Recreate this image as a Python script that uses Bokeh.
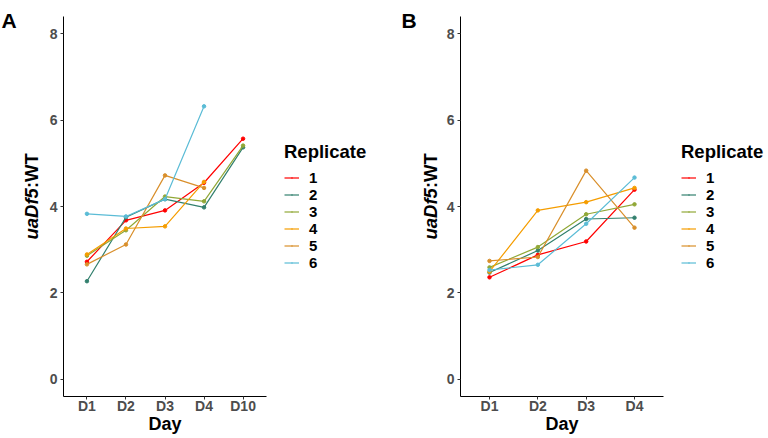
import math
from bokeh.plotting import figure
from bokeh.models import (ColumnDataSource, Legend, LegendItem, Label,
                          FactorRange, Range1d, FixedTicker)
from bokeh.layouts import row
from bokeh.embed import file_html
from bokeh.resources import INLINE

# ---------------- data ----------------
replicates = ["1", "2", "3", "4", "5", "6"]
colors = ["#FF0000", "#33806E", "#91A837", "#F59D00", "#D98F2B", "#5BBCD6"]

days_a = ["D1", "D2", "D3", "D4", "D10"]
rep1_a = [2.72, 3.68, 3.91, 4.55, 5.57]
rep2_a = [2.27, 3.75, 4.17, 3.98, 5.37]
rep3_a = [2.86, 3.45, 4.23, 4.12, 5.41]
rep4_a = [2.89, 3.49, 3.54, 4.57, None]
rep5_a = [2.66, 3.12, 4.72, 4.43, None]
rep6_a = [3.83, 3.77, 4.17, 6.32, None]

days_b = ["D1", "D2", "D3", "D4"]
rep1_b = [2.36, 2.88, 3.19, 4.39]
rep2_b = [2.47, 2.98, 3.71, 3.74]
rep3_b = [2.59, 3.06, 3.82, 4.05]
rep4_b = [2.49, 3.91, 4.10, 4.43]
rep5_b = [2.74, 2.83, 4.83, 3.51]
rep6_b = [2.53, 2.65, 3.60, 4.67]

y_ticks = [0, 2, 4, 6, 8]

FONT = "Liberation Sans"
H = 438


def blank(width):
    t = figure(width=width, height=H, x_range=Range1d(0, 1),
               y_range=Range1d(0, 1), x_axis_type=None, y_axis_type=None,
               output_backend="svg", toolbar_location=None,
               min_border_left=0, min_border_right=0,
               min_border_top=0, min_border_bottom=0)
    t.frame_align = False
    t.title.visible = False
    t.outline_line_color = None
    return t


def text_strip(width, letter, letter_x, title_x):
    """Narrow strip holding the panel letter and the y-axis title."""
    t = blank(width)
    common = dict(x_units="screen", y_units="screen", text_font=FONT,
                  text_color="black", text_align="left",
                  text_baseline="alphabetic")
    t.add_layout(Label(x=letter_x, y=H - 19.5, text=letter,
                       text_font_style="bold", text_font_size="21px", **common))
    t.add_layout(Label(x=title_x, y=H - 239, text="uaDf5", angle=math.pi / 2,
                       text_font_style="bold italic", text_font_size="18.5px",
                       **common))
    t.add_layout(Label(x=title_x, y=H - 239 + 51.4, text=":WT",
                       angle=math.pi / 2, text_font_style="bold",
                       text_font_size="18.5px", **common))
    return t


def legend_strip(width, lx):
    t = blank(width)
    items = []
    for rep, col in zip(replicates, colors):
        # proxy renderers (kept outside the visible range) for the key
        src = ColumnDataSource(dict(x=[-5, -4], y=[-5, -5]))
        l = t.line("x", "y", source=src, line_color=col, line_width=1.2)
        s = t.scatter("x", "y", source=src, size=3.5, fill_color=col,
                      line_color=col, line_width=1.6, marker="dot")
        items.append(LegendItem(label=rep, renderers=[l, s]))
    legend = Legend(items=items, location=(lx, H - 271.2), title="Replicate",
                    title_text_font=FONT, title_text_font_size="18.5px",
                    title_text_font_style="bold", title_text_color="black",
                    label_text_font=FONT, label_text_font_size="15px",
                    label_text_font_style="bold", label_text_color="black",
                    glyph_width=15, glyph_height=17, label_height=17,
                    label_standoff=10, spacing=0, padding=0, margin=0,
                    title_standoff=6, border_line_color=None,
                    background_fill_alpha=0)
    t.add_layout(legend)
    return t


def make_panel(days, series, width, left, right):
    p = figure(width=width, height=H,
               x_range=FactorRange(*days, range_padding=0.1,
                                   range_padding_units="absolute"),
               y_range=Range1d(-0.4, 8.4),
               output_backend="svg", toolbar_location=None,
               min_border_left=left, min_border_right=right,
               min_border_top=16, min_border_bottom=42)
    p.frame_align = False
    p.title.visible = False
    p.outline_line_color = None
    p.xgrid.grid_line_color = None
    p.ygrid.grid_line_color = None
    p.yaxis.ticker = FixedTicker(ticks=y_ticks)
    for ax in (p.xaxis, p.yaxis):
        ax.axis_line_color = "black"
        ax.axis_line_width = 1
        ax.major_tick_in = 0
        ax.major_tick_out = 3
        ax.major_tick_line_color = "#333333"
        ax.minor_tick_line_color = None
        ax.major_label_text_font = FONT
        ax.major_label_text_font_size = "14px"
        ax.major_label_text_font_style = "bold"
        ax.major_label_text_color = "#4D4D4D"
        ax.major_label_standoff = 3
    p.xaxis.major_label_standoff = -2
    p.xaxis.axis_label = "Day"
    p.xaxis.axis_label_text_font = FONT
    p.xaxis.axis_label_text_font_size = "18px"
    p.xaxis.axis_label_text_font_style = "bold"
    p.xaxis.axis_label_text_color = "black"
    p.xaxis.axis_label_standoff = -3

    for rep, vals, col in zip(replicates, series, colors):
        xs = [d for d, v in zip(days, vals) if v is not None]
        ys = [v for v in vals if v is not None]
        src = ColumnDataSource(dict(x=xs, y=ys))
        p.line("x", "y", source=src, line_color=col, line_width=1.2)
        p.scatter("x", "y", source=src, size=3.5, fill_color=col,
                  line_color=col, marker="circle")
    return p


tA = text_strip(45, "A", 1, 31)
pA = make_panel(days_a, [rep1_a, rep2_a, rep3_a, rep4_a, rep5_a, rep6_a],
                230, 18, 9)
lA = legend_strip(115, 9)
tB = text_strip(52, "B", 11, 40)
pB = make_panel(days_b, [rep1_b, rep2_b, rep3_b, rep4_b, rep5_b, rep6_b],
                228, 18, 7)
lB = legend_strip(98, 11)

layout = row(tA, pA, lA, tB, pB, lB)
open("out.html", "w").write(file_html(layout, INLINE))
